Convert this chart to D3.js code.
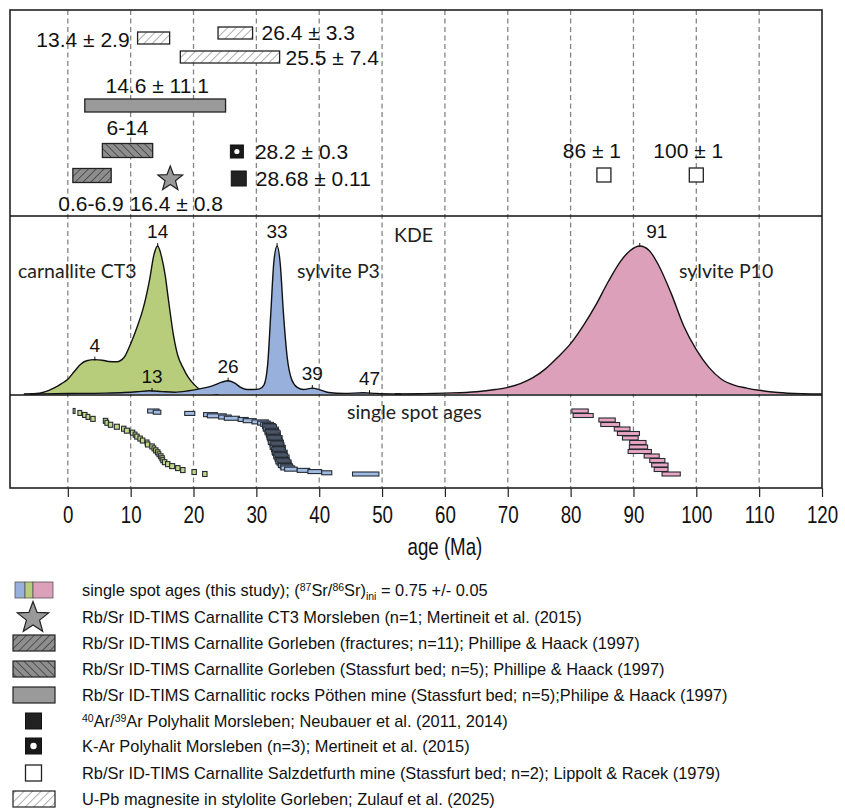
<!DOCTYPE html>
<html>
<head>
<meta charset="utf-8">
<script src="https://cdn.jsdelivr.net/npm/d3@7"></script>
<style>
  body { margin: 0; background: #fff; }
</style>
</head>
<body>
<div id="chart"></div>
<script>
// ---------- data ----------

// literature age ranges (top panel), box extents in Ma
var litLabels = ["13.4 ± 2.9", "26.4 ± 3.3", "25.5 ± 7.4", "14.6 ± 11.1", "6-14", "0.6-6.9"];
var litLow    = [11.1, 23.9, 17.9, 2.7, 5.5, 0.8];
var litHigh   = [16.2, 29.4, 33.7, 25.1, 13.5, 6.9];
var litKind   = ["upb", "upb", "upb", "poethen", "stassfurt", "fract"];

// literature point ages (top panel)
var ptLabels = ["16.4 ± 0.8", "28.2 ± 0.3", "28.68 ± 0.11", "86 ± 1", "100 ± 1"];
var ptAge    = [16.3, 26.9, 27.2, 85.3, 100];
var ptKind   = ["star", "kar", "arar", "salz", "salz"];

// KDE curves (relative density, peak = 1)
var ct3Age  = [-7, -5, -4, -3, -2, -1, 0, 1, 2, 3, 4.3, 5.5, 6.5, 7.8, 9, 10, 11, 12, 13, 13.7, 14.3, 14.9, 15.5, 16, 16.8, 17.5, 18.3, 19.2, 20.2, 21, 22, 24];
var ct3Dens = [0, 0.003, 0.01, 0.025, 0.045, 0.07, 0.1, 0.15, 0.2, 0.225, 0.232, 0.228, 0.22, 0.218, 0.25, 0.34, 0.45, 0.58, 0.77, 0.94, 1, 0.93, 0.8, 0.64, 0.4, 0.26, 0.18, 0.11, 0.06, 0.03, 0.012, 0];

var p3Age  = [-6, -2, 2, 6, 9, 11, 13, 15, 17, 19, 21, 23, 24.5, 25.5, 26.5, 27.5, 28.5, 29.5, 30.5, 31.2, 31.8, 32.3, 32.8, 33.3, 33.8, 34.3, 34.9, 35.6, 36.5, 37.5, 38.9, 40, 41.5, 44, 47, 49, 53];
var p3Dens = [0, 0.002, 0.004, 0.006, 0.01, 0.015, 0.022, 0.016, 0.012, 0.02, 0.035, 0.055, 0.08, 0.09, 0.075, 0.045, 0.03, 0.03, 0.035, 0.06, 0.2, 0.55, 0.9, 1, 0.88, 0.55, 0.25, 0.1, 0.045, 0.03, 0.04, 0.03, 0.01, 0.004, 0.008, 0.004, 0];

var p10Age  = [52, 56, 60, 65, 68, 70, 72, 74, 76, 78, 80, 82, 84, 86, 88, 89.5, 91, 92.5, 94, 96, 98, 100, 102, 104, 106, 108, 110, 113, 117, 120];
var p10Dens = [0, 0.002, 0.006, 0.015, 0.03, 0.045, 0.07, 0.11, 0.17, 0.25, 0.34, 0.46, 0.6, 0.76, 0.9, 0.97, 1, 0.97, 0.87, 0.68, 0.46, 0.3, 0.18, 0.1, 0.06, 0.04, 0.025, 0.01, 0.002, 0];

// KDE peak labels
var peakAge    = [4.3, 13.4, 14.3, 25.5, 33.3, 38.9, 48, 91];
var peakSample = ["ct3", "p3", "ct3", "p3", "p3", "p3", "p3", "p10"];
var peakText   = ["4", "13", "14", "26", "33", "39", "47", "91"];

// single spot ages (sorted), value and half-width of the error bar, Ma
var ct3SpotAge = [1.0, 1.9, 2.7, 3.2, 4.0, 6.0, 6.2, 6.8, 7.8, 8.9, 9.4, 10.3, 10.7, 11.0, 11.5, 11.9, 12.6, 12.7, 13.4, 13.7, 14.0, 14.3, 14.5, 14.8, 15.0, 15.1, 15.4, 15.9, 16.6, 17.5, 18.3, 20.1, 21.8];
var ct3SpotErr = [0.15, 0.3, 0.35, 0.3, 0.35, 0.35, 0.3, 0.35, 0.4, 0.35, 0.4, 0.35, 0.3, 0.35, 0.35, 0.35, 0.3, 0.35, 0.35, 0.3, 0.35, 0.35, 0.3, 0.35, 0.35, 0.3, 0.35, 0.35, 0.4, 0.35, 0.35, 0.35, 0.35];

var p3SpotAge = [13.6, 14.2, 19.4, 22.7, 23.7, 25.0, 26.1, 27.9, 28.9, 30.6, 31.2, 31.7,
  32.0, 32.1, 32.2, 32.3, 32.4, 32.5, 32.6, 32.6, 32.7, 32.8, 32.9, 32.9, 33.0, 33.1, 33.1, 33.2, 33.3, 33.3,
  33.4, 33.5, 33.5, 33.6, 33.7, 33.7, 33.8, 33.9, 34.0, 34.0, 34.1, 34.2, 34.3, 34.4, 34.5, 34.6, 34.8, 35.0,
  35.5, 37.5, 39.3, 41.2, 47.4];
var p3SpotErr = [0.9, 0.6, 0.8, 1.1, 1.5, 1.0, 1.2, 0.8, 1.0, 1.3, 1.0, 1.0,
  1.0, 1.1, 1.0, 1.2, 1.0, 1.1, 1.2, 1.0, 1.1, 1.0, 1.2, 1.1, 1.0, 1.1, 1.2, 1.0, 1.1, 1.0,
  1.2, 1.0, 1.1, 1.0, 1.2, 1.1, 1.0, 1.1, 1.2, 1.0, 1.1, 1.0, 1.2, 1.1, 1.0, 1.1, 1.0, 1.1,
  1.0, 1.0, 1.1, 0.8, 2.1];

var p10SpotAge = [81.5, 82.0, 85.8, 86.3, 88.2, 89.2, 89.5, 90.7, 90.8, 91.0, 92.9, 93.8, 94.2, 94.4, 96.0];
var p10SpotErr = [1.3, 1.6, 1.3, 1.5, 1.25, 1.75, 1.25, 1.3, 1.45, 1.85, 1.2, 1.2, 1.3, 1.1, 1.45];

// axis ticks
var tickAges = [0, 10, 20, 30, 40, 50, 60, 70, 80, 90, 100, 110, 120];

// legend
var legendKind = ["spots", "star", "fract", "stassfurt", "poethen", "arar", "kar", "salz", "upb"];
var legendText = [
  null,
  "Rb/Sr ID-TIMS Carnallite CT3 Morsleben (n=1; Mertineit et al. (2015)",
  "Rb/Sr ID-TIMS Carnallite Gorleben (fractures; n=11); Phillipe & Haack (1997)",
  "Rb/Sr ID-TIMS Carnallite Gorleben (Stassfurt bed; n=5); Phillipe & Haack (1997)",
  "Rb/Sr ID-TIMS Carnallitic rocks Pöthen mine (Stassfurt bed; n=5);Philipe & Haack (1997)",
  null,
  "K-Ar Polyhalit Morsleben (n=3); Mertineit et al. (2015)",
  "Rb/Sr ID-TIMS Carnallite Salzdetfurth mine (Stassfurt bed; n=2); Lippolt & Racek (1979)",
  "U-Pb magnesite in stylolite Gorleben; Zulauf et al. (2025)"
];

// ---------- layout ----------
var width = 845, height = 812;
var frame = {left: 10, right: 822, top: 10, bottom: 488};
var kdeTop = 216, spotTop = 395;
var numFont = "'Liberation Sans', Arial, Helvetica, sans-serif";
var humanFont = "Lato, 'Open Sans', sans-serif";

var colGreen = "#b8cd7c", colBlue = "#98b1dc", colPink = "#dda0bb";
var spotGreen = "#c4d88a", spotBlue = "#9fbbe4", spotPink = "#e8a6c3";

var svg = d3.select("#chart").append("svg")
  .attr("width", width)
  .attr("height", height)
  .style("font-family", numFont);

var x = d3.scaleLinear().domain([-9.2, 120]).range([frame.left, frame.right]);
var yK = d3.scaleLinear().domain([0, 1]).range([394, 246]);

// hatch patterns
var defs = svg.append("defs");
function hatch(id, bg, stroke, gap, angle, sw) {
  var p = defs.append("pattern")
    .attr("id", id)
    .attr("patternUnits", "userSpaceOnUse")
    .attr("width", gap).attr("height", gap)
    .attr("patternTransform", "rotate(" + angle + ")");
  p.append("rect").attr("width", gap).attr("height", gap).attr("fill", bg);
  p.append("line").attr("x1", 0).attr("y1", -1).attr("x2", 0).attr("y2", gap + 1)
    .attr("stroke", stroke).attr("stroke-width", sw);
}
hatch("hWhite", "#fff", "#333", 6, 45, 0.8);
hatch("hFract", "#8e8e8e", "#2e2e2e", 5.5, 45, 1.3);
hatch("hStass", "#8e8e8e", "#2e2e2e", 5.5, -45, 1.3);

var fillFor = {upb: "url(#hWhite)", fract: "url(#hFract)", stassfurt: "url(#hStass)", poethen: "#9a9a9a"};

// dashed grid
svg.append("g").selectAll("line")
  .data(d3.range(0, 111, 10))
  .enter().append("line")
  .attr("x1", function(d){ return x(d); }).attr("x2", function(d){ return x(d); })
  .attr("y1", frame.top).attr("y2", frame.bottom)
  .attr("stroke", "#858585").attr("stroke-width", 1.3)
  .attr("stroke-dasharray", "5,3.5");

// ---------- top panel ----------
var litY = [38, 33, 57, 105.5, 150.5, 175.5];
var litH = [12, 12, 12, 13, 14, 14];
var topG = svg.append("g");

topG.selectAll("rect.lit")
  .data(litLabels)
  .enter().append("rect")
  .attr("class", "lit")
  .attr("x", function(d, i){ return x(litLow[i]); })
  .attr("width", function(d, i){ return x(litHigh[i]) - x(litLow[i]); })
  .attr("y", function(d, i){ return litY[i] - litH[i] / 2; })
  .attr("height", function(d, i){ return litH[i]; })
  .attr("fill", function(d, i){ return fillFor[litKind[i]]; })
  .attr("stroke", "#222").attr("stroke-width", 1.3);

// label placement for each range: anchor, x from box, baseline
var litLab = [
  {a: "end",    x: function(i){ return x(litLow[i]) - 8; },  y: 47},
  {a: "start",  x: function(i){ return x(litHigh[i]) + 9; }, y: 40},
  {a: "start",  x: function(i){ return x(litHigh[i]) + 6; },  y: 65},
  {a: "middle", x: function(i){ return (x(litLow[i]) + x(litHigh[i])) / 2 + 2; }, y: 93},
  {a: "middle", x: function(i){ return (x(litLow[i]) + x(litHigh[i])) / 2; }, y: 135},
  {a: "middle", x: function(i){ return (x(litLow[i]) + x(litHigh[i])) / 2 - 1; }, y: 211}
];
topG.selectAll("text.lit")
  .data(litLabels)
  .enter().append("text")
  .attr("class", "lit")
  .attr("text-anchor", function(d, i){ return litLab[i].a; })
  .attr("x", function(d, i){ return litLab[i].x(i); })
  .attr("y", function(d, i){ return litLab[i].y; })
  .attr("font-size", 21)
  .attr("fill", "#111")
  .text(function(d){ return d; });

function starPath(cx, cy, R, r) {
  var pts = [];
  for (var k = 0; k < 10; k++) {
    var ang = -Math.PI / 2 + k * Math.PI / 5;
    var rad = k % 2 === 0 ? R : r;
    pts.push([cx + rad * Math.cos(ang), cy + rad * Math.sin(ang)]);
  }
  return "M" + pts.map(function(p){ return p[0].toFixed(2) + "," + p[1].toFixed(2); }).join("L") + "Z";
}

function drawMarker(g, kind, cx, cy, s) {
  if (kind === "star") {
    g.append("path").attr("d", starPath(cx, cy, s, s * 0.42))
      .attr("fill", "#999").attr("stroke", "#222").attr("stroke-width", 1.2);
  } else if (kind === "arar") {
    g.append("rect").attr("x", cx - s / 2).attr("y", cy - s / 2).attr("width", s).attr("height", s)
      .attr("fill", "#222").attr("stroke", "#111").attr("stroke-width", 1);
  } else if (kind === "kar") {
    g.append("rect").attr("x", cx - s / 2).attr("y", cy - s / 2).attr("width", s).attr("height", s)
      .attr("fill", "#1a1a1a").attr("stroke", "#111").attr("stroke-width", 1);
    g.append("circle").attr("cx", cx).attr("cy", cy).attr("r", s * 0.2).attr("fill", "#fff");
  } else if (kind === "salz") {
    g.append("rect").attr("x", cx - s / 2).attr("y", cy - s / 2).attr("width", s).attr("height", s)
      .attr("fill", "#fff").attr("stroke", "#222").attr("stroke-width", 1.3);
  }
}

var ptY = [179, 151.5, 178.5, 175, 175];
var ptS = [13, 13, 15, 14, 14];
ptLabels.forEach(function(d, i){
  drawMarker(topG, ptKind[i], x(ptAge[i]), ptY[i], ptS[i]);
});
var ptLab = [
  {a: "middle", dx: 6,   y: 211},
  {a: "start",  dx: 18,  y: 159},
  {a: "start",  dx: 17,  y: 186},
  {a: "middle", dx: -12, y: 158},
  {a: "middle", dx: -8,  y: 158}
];
topG.selectAll("text.pt")
  .data(ptLabels)
  .enter().append("text")
  .attr("class", "pt")
  .attr("text-anchor", function(d, i){ return ptLab[i].a; })
  .attr("x", function(d, i){ return x(ptAge[i]) + ptLab[i].dx; })
  .attr("y", function(d, i){ return ptLab[i].y; })
  .attr("font-size", 21)
  .attr("fill", "#111")
  .text(function(d){ return d; });

// ---------- KDE panel ----------
var kdeSets = {
  ct3: {age: ct3Age, dens: ct3Dens, fill: colGreen},
  p3:  {age: p3Age,  dens: p3Dens,  fill: colBlue},
  p10: {age: p10Age, dens: p10Dens, fill: colPink}
};
var kdeG = svg.append("g");
var area = d3.area()
  .x(function(d){ return x(d[0]); })
  .y0(yK(0))
  .y1(function(d){ return yK(d[1]); })
  .curve(d3.curveMonotoneX);
var line = d3.line()
  .x(function(d){ return x(d[0]); })
  .y(function(d){ return yK(d[1]); })
  .curve(d3.curveMonotoneX);

["ct3", "p3", "p10"].forEach(function(key){
  var s = kdeSets[key];
  var pts = s.age.map(function(a, i){ return [a, s.dens[i]]; });
  kdeG.append("path").attr("d", area(pts)).attr("fill", s.fill);
  kdeG.append("path").attr("d", line(pts)).attr("fill", "none")
    .attr("stroke", "#111").attr("stroke-width", 1.4);
});

function densAt(key, a) {
  var s = kdeSets[key];
  var i = d3.bisectLeft(s.age, a);
  if (i <= 0) return s.dens[0];
  if (i >= s.age.length) return s.dens[s.age.length - 1];
  var t = (a - s.age[i - 1]) / (s.age[i] - s.age[i - 1]);
  return s.dens[i - 1] + t * (s.dens[i] - s.dens[i - 1]);
}

peakText.forEach(function(t, i){
  var yy = yK(densAt(peakSample[i], peakAge[i]));
  kdeG.append("line")
    .attr("x1", x(peakAge[i])).attr("x2", x(peakAge[i]))
    .attr("y1", yy - 3).attr("y2", yy + 1)
    .attr("stroke", "#111").attr("stroke-width", 1);
  kdeG.append("text")
    .attr("x", x(peakAge[i]) + (t === "91" ? 17 : 0))
    .attr("y", yy - 8)
    .attr("text-anchor", "middle")
    .attr("font-size", 19)
    .attr("fill", "#111")
    .text(t);
});

var sampleLabels = ["carnallite CT3", "sylvite P3", "KDE", "sylvite P10", "single spot ages"];
var sampleLabPos = [[18, 278], [297, 278], [394, 242], [679, 278], [347, 419]];
svg.append("g").selectAll("text")
  .data(sampleLabels)
  .enter().append("text")
  .attr("x", function(d, i){ return sampleLabPos[i][0]; })
  .attr("y", function(d, i){ return sampleLabPos[i][1]; })
  .attr("font-family", humanFont)
  .attr("font-size", 19.5)
  .attr("fill", "#222")
  .text(function(d){ return d; });

// ---------- single spot ages ----------
var spotG = svg.append("g");
function drawSpots(ages, errs, fill, h) {
  var y = d3.scalePoint().domain(d3.range(ages.length)).range([411, 474]);
  spotG.append("g").selectAll("rect")
    .data(ages)
    .enter().append("rect")
    .attr("x", function(d, i){ return x(d - errs[i]); })
    .attr("width", function(d, i){ return Math.max(x(d + errs[i]) - x(d - errs[i]), 1.5); })
    .attr("y", function(d, i){ return y(i) - h / 2; })
    .attr("height", h)
    .attr("fill", fill)
    .attr("stroke", "#262b33").attr("stroke-width", 1.1);
}
drawSpots(ct3SpotAge, ct3SpotErr, spotGreen, 5);
drawSpots(p3SpotAge, p3SpotErr, spotBlue, 4);
drawSpots(p10SpotAge, p10SpotErr, spotPink, 4);

// ---------- frame and axis ----------
svg.append("rect")
  .attr("x", frame.left).attr("y", frame.top)
  .attr("width", frame.right - frame.left).attr("height", frame.bottom - frame.top)
  .attr("fill", "none").attr("stroke", "#222").attr("stroke-width", 1.6);
[kdeTop, spotTop].forEach(function(yy){
  svg.append("line").attr("x1", frame.left).attr("x2", frame.right)
    .attr("y1", yy).attr("y2", yy).attr("stroke", "#111").attr("stroke-width", 1.6);
});

var axis = d3.axisBottom(x).tickValues(tickAges).tickSize(9).tickPadding(9);
var axG = svg.append("g").attr("transform", "translate(0," + frame.bottom + ")").call(axis);
axG.select(".domain").remove();
axG.selectAll(".tick line").attr("stroke", "#222").attr("stroke-width", 1.2);
// the figure uses a condensed face: squeeze horizontally
axG.selectAll(".tick text")
  .attr("font-family", numFont).attr("font-size", 24).attr("fill", "#111")
  .attr("transform", "scale(0.78,1)");

svg.append("g")
  .attr("transform", "translate(" + x(60) + ",555) scale(0.78,1)")
  .append("text")
  .attr("text-anchor", "middle")
  .attr("font-family", numFont).attr("font-size", 24).attr("fill", "#111")
  .text("age (Ma)");

// ---------- legend ----------
var legRowY = [590, 617, 643, 669, 695, 721, 746, 773, 799];
var leg = svg.append("g").attr("font-size", 16.4).attr("fill", "#111");
legendKind.forEach(function(k, i){
  var cy = legRowY[i];
  if (k === "spots") {
    var seg = [[15, 25, colBlue], [25, 33, colGreen], [33, 53, colPink]];
    seg.forEach(function(s){
      leg.append("rect").attr("x", s[0]).attr("y", cy - 8).attr("width", s[1] - s[0]).attr("height", 16)
        .attr("fill", s[2]).attr("stroke", "#555").attr("stroke-width", 0.8);
    });
  } else if (k === "star") {
    drawMarker(leg, "star", 33, cy + 1, 16.5);
  } else if (fillFor[k]) {
    leg.append("rect").attr("x", 13).attr("y", cy - 8).attr("width", 42).attr("height", 16)
      .attr("fill", fillFor[k]).attr("stroke", "#222").attr("stroke-width", 1.2);
  } else {
    drawMarker(leg, k, 33.5, cy, 16);
  }
  var t = leg.append("text").attr("x", 82).attr("y", cy + 5.5);
  if (i === 0) {
    t.append("tspan").text("single spot ages (this study); (");
    t.append("tspan").attr("font-size", 10.5).attr("dy", -5).text("87");
    t.append("tspan").attr("dy", 5).text("Sr/");
    t.append("tspan").attr("font-size", 10.5).attr("dy", -5).text("86");
    t.append("tspan").attr("dy", 5).text("Sr)");
    t.append("tspan").attr("font-size", 10.5).attr("dy", 4).text("ini");
    t.append("tspan").attr("dy", -4).text(" = 0.75 +/- 0.05");
  } else if (i === 5) {
    t.append("tspan").attr("font-size", 10.5).attr("dy", -5).text("40");
    t.append("tspan").attr("dy", 5).text("Ar/");
    t.append("tspan").attr("font-size", 10.5).attr("dy", -5).text("39");
    t.append("tspan").attr("dy", 5).text("Ar Polyhalit Morsleben; Neubauer et al. (2011, 2014)");
  } else {
    t.text(legendText[i]);
  }
});
</script>
</body>
</html>
